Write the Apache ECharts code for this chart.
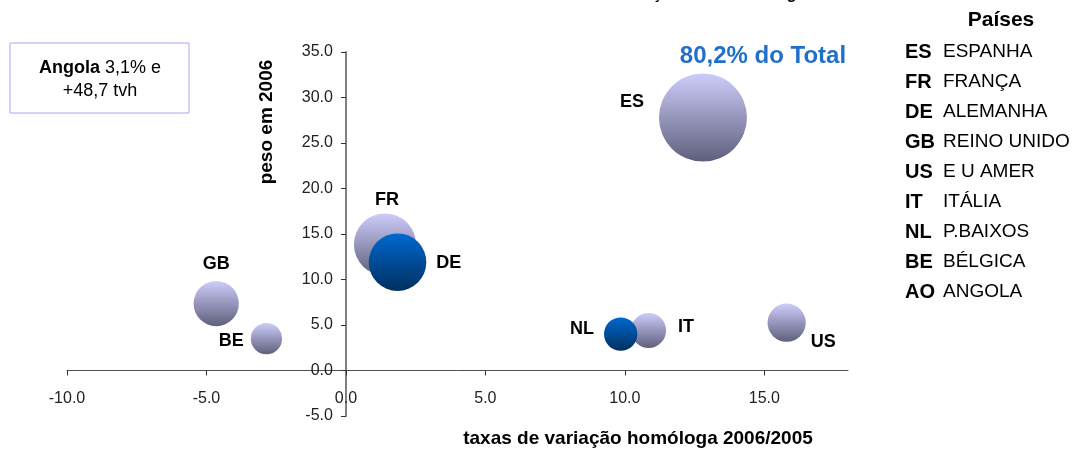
<!DOCTYPE html>
<html>
<head>
<meta charset="utf-8">
<script src="https://cdn.jsdelivr.net/npm/echarts@6/dist/echarts.min.js"></script>
<style>
  html, body { margin: 0; padding: 0; background: #fff; }
  #chart { width: 1072px; height: 450px; }
</style>
</head>
<body>
<div id="chart"></div>
<script>
// dados
const codes = ['ES', 'FR', 'DE', 'GB', 'US', 'IT', 'NL', 'BE'];
const taxas = [12.8, 1.4, 1.85, -4.65, 15.8, 10.85, 9.85, -2.85]; // tvh 2006/2005
const pesos = [27.8, 13.85, 11.9, 7.35, 5.25, 4.4, 4.0, 3.5];    // peso em 2006
const legendCodes = ['ES', 'FR', 'DE', 'GB', 'US', 'IT', 'NL', 'BE', 'AO'];
const legendNames = ['ESPANHA', 'FRANÇA', 'ALEMANHA', 'REINO UNIDO', 'E U AMER', 'ITÁLIA', 'P.BAIXOS', 'BÉLGICA', 'ANGOLA'];
const xTicks = [-10, -5, 0, 5, 10, 15];

const sans = "'Liberation Sans', Arial, sans-serif";

// bolhas azuis
const destaque = ['DE', 'NL'];

// posição das etiquetas
const labelLayout = {
  ES: { position: 'left', distance: 15, offset: [0, -15] },
  FR: { position: 'top', distance: 4, offset: [2, 0] },
  DE: { position: 'right', distance: 10, offset: [0, 1] },
  GB: { position: 'top', distance: 8, offset: [0, 0] },
  US: { position: 'right', distance: 5, offset: [0, 19] },
  IT: { position: 'right', distance: 12, offset: [0, -3] },
  NL: { position: 'left', distance: 10, offset: [0, -5] },
  BE: { position: 'left', distance: 7, offset: [0, 2] }
};

const lilas = new echarts.graphic.LinearGradient(0, 0, 0, 1, [
  { offset: 0, color: '#cdcdfb' },
  { offset: 1, color: '#5f5f7c' }
]);
const azul = new echarts.graphic.LinearGradient(0, 0, 0, 1, [
  { offset: 0, color: '#0068cf' },
  { offset: 1, color: '#00305f' }
]);

const maxPeso = Math.max(...pesos);

const seriesData = codes.map((c, i) => ({
  name: c,
  value: [taxas[i], pesos[i]],
  itemStyle: { color: destaque.includes(c) ? azul : lilas, opacity: 1 },
  label: labelLayout[c]
}));

// grelha e cruzamento dos eixos no zero
const gridLeft = 67, gridTop = 52, gridWidth = 781, gridHeight = 364;
const xMin = -10, xMax = 18, yMin = -5, yMax = 35;
const yAxisOffset = -gridWidth * (0 - xMin) / (xMax - xMin);
const xAxisOffset = -gridHeight * (0 - yMin) / (yMax - yMin);

const graphics = [
  // título (cortado no topo)
  { type: 'text', left: 609, top: -13, style: { text: 'Evolução e Peso da Origem', font: 'bold 16px ' + sans, fill: '#000' } },
  // caixa Angola
  { type: 'rect', shape: { x: 10, y: 43, width: 179, height: 70 }, style: { fill: '#fff', stroke: '#a8a8f0', lineWidth: 1 } },
  {
    type: 'text', x: 100, y: 80,
    style: {
      text: '{b|Angola} 3,1% e\n+48,7 tvh',
      align: 'center', verticalAlign: 'middle',
      font: '18px ' + sans, fill: '#000', lineHeight: 23,
      rich: { b: { font: 'bold 18px ' + sans, fill: '#000' } }
    }
  },
  // nota total
  { type: 'text', x: 763, y: 56, style: { text: '80,2% do Total', align: 'center', verticalAlign: 'middle', font: 'bold 24px ' + sans, fill: '#1f6fcb' } },
  // nomes dos eixos
  { type: 'text', x: 267, y: 122, rotation: Math.PI / 2, style: { text: 'peso em 2006', align: 'center', verticalAlign: 'middle', font: 'bold 19px ' + sans, fill: '#000' } },
  { type: 'text', x: 638, y: 439, style: { text: 'taxas de variação homóloga 2006/2005', align: 'center', verticalAlign: 'middle', font: 'bold 19px ' + sans, fill: '#000' } },
  // legenda
  { type: 'text', x: 1001, y: 20, style: { text: 'Países', align: 'center', verticalAlign: 'middle', font: 'bold 21px ' + sans, fill: '#000' } }
];

legendCodes.forEach((c, i) => {
  const y = 52 + i * 30;
  graphics.push({ type: 'text', x: 905, y: y, style: { text: c, verticalAlign: 'middle', font: 'bold 20px ' + sans, fill: '#000' } });
  graphics.push({ type: 'text', x: 943, y: y, style: { text: legendNames[i], verticalAlign: 'middle', font: '19px ' + sans, fill: '#000' } });
});

const chart = echarts.init(document.getElementById('chart'), null, { renderer: 'canvas' });
chart.setOption({
  animation: false,
  backgroundColor: '#fff',
  grid: { left: gridLeft, top: gridTop, width: gridWidth, height: gridHeight },
  xAxis: {
    type: 'value',
    min: xMin,
    max: xMax,
    interval: 5,
    position: 'bottom',
    offset: xAxisOffset,
    splitLine: { show: false },
    axisLine: { onZero: false, lineStyle: { color: '#505050', width: 1 } },
    axisTick: { customValues: xTicks, length: 5, lineStyle: { color: '#333' } },
    axisLabel: {
      customValues: xTicks,
      margin: 20,
      formatter: v => v.toFixed(1),
      fontFamily: sans, fontSize: 16, color: '#222'
    }
  },
  yAxis: {
    type: 'value',
    min: yMin,
    max: yMax,
    interval: 5,
    position: 'left',
    offset: yAxisOffset,
    splitLine: { show: false },
    axisLine: { onZero: false, lineStyle: { color: '#808080', width: 2 } },
    axisTick: { length: 5, lineStyle: { color: '#333' } },
    axisLabel: {
      margin: 13,
      formatter: v => v.toFixed(1),
      fontFamily: sans, fontSize: 16, color: '#222'
    }
  },
  series: [{
    type: 'scatter',
    data: seriesData,
    symbolSize: val => 88 * Math.sqrt(val[1] / maxPeso),
    label: {
      show: true,
      formatter: p => p.name,
      fontFamily: sans, fontWeight: 'bold', fontSize: 18, color: '#000'
    },
    emphasis: { disabled: true }
  }],
  graphic: graphics
});
</script>
</body>
</html>
